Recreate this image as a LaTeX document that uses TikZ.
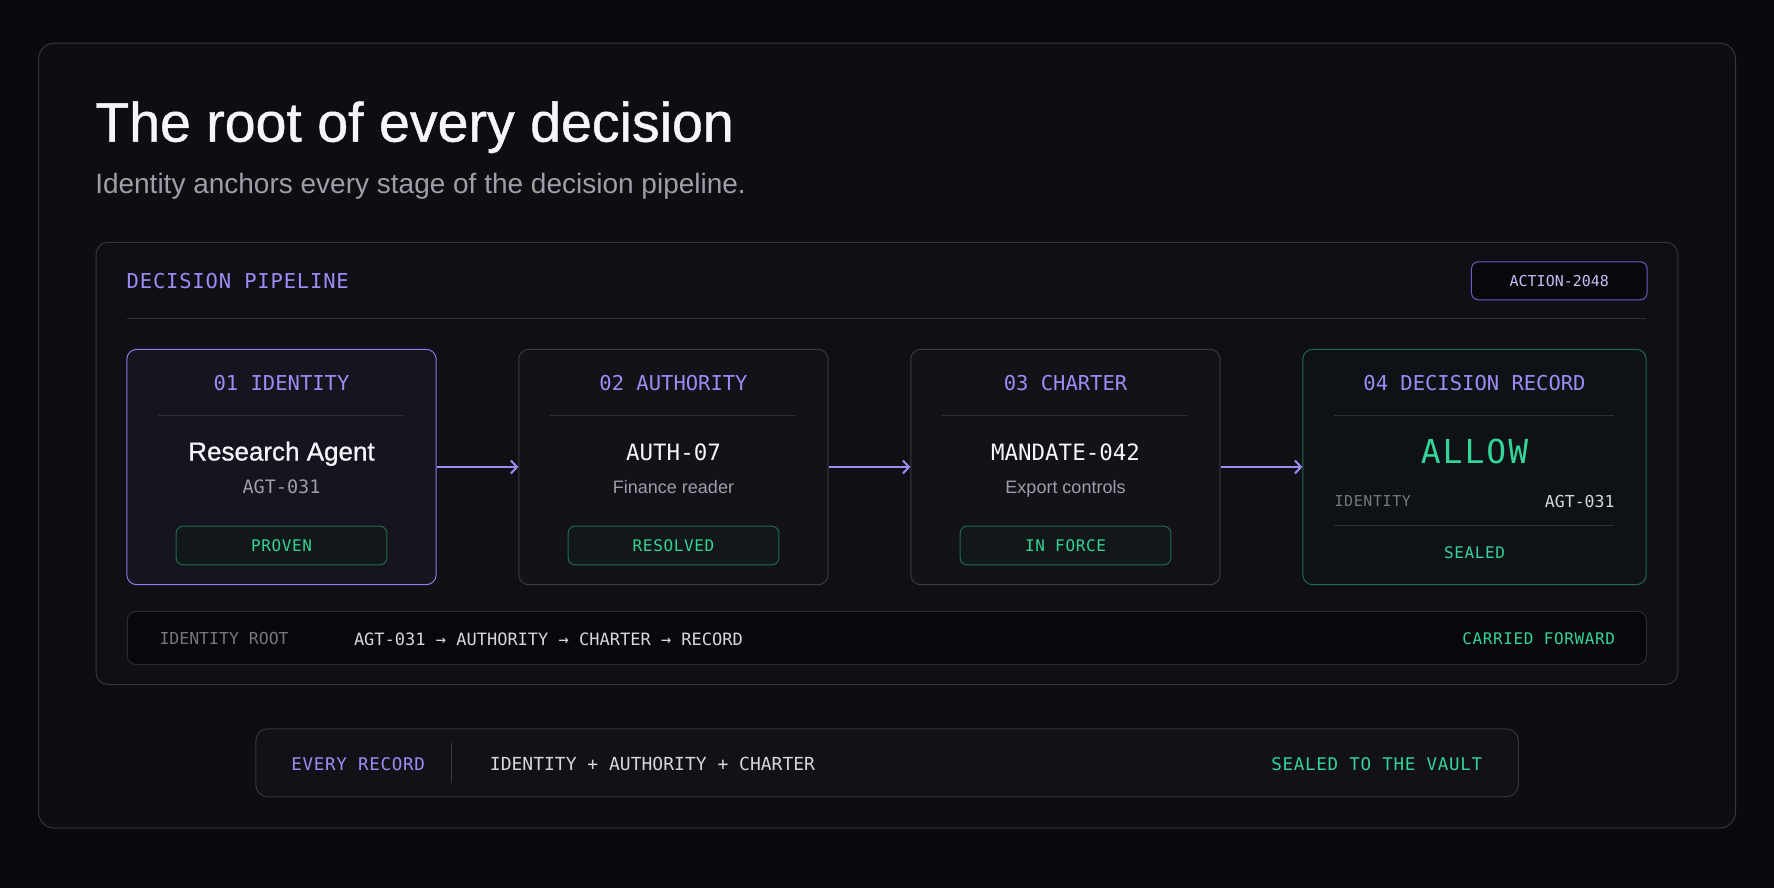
\documentclass[tikz,border=0pt]{standalone}
\usepackage{fontspec}
\setmainfont{Liberation Sans}
\newfontfamily\headfont{Liberation Sans}[FakeBold=0.8]
\newfontfamily\monofont{DejaVu Sans Mono}
\newfontfamily\monowide{DejaVu Sans Mono}[LetterSpace=4]
\newfontfamily\monohuge{DejaVu Sans Mono}[LetterSpace=6]
\usetikzlibrary{arrows.meta,positioning}
\definecolor{canvas}{HTML}{0A0A0E}
\definecolor{panelbg}{HTML}{0D0D12}
\definecolor{pipebg}{HTML}{0F0F15}
\definecolor{edge}{HTML}{35353D}
\definecolor{edgedark}{HTML}{2B2B33}
\definecolor{rulecol}{HTML}{2E2E36}
\definecolor{cardbg}{HTML}{121218}
\definecolor{cardedge}{HTML}{3A3A42}
\definecolor{idbg}{HTML}{16141F}
\definecolor{accentedge}{HTML}{8C7BEA}
\definecolor{recbg}{HTML}{0E1217}
\definecolor{okedge}{HTML}{1F6A4E}
\definecolor{badgebg}{HTML}{121719}
\definecolor{deepbg}{HTML}{08080C}
\definecolor{footbg}{HTML}{111117}
\definecolor{accent}{HTML}{9D8CF5}
\definecolor{lavender}{HTML}{C5BDF5}
\definecolor{tagedge}{HTML}{6A5CC4}
\definecolor{ok}{HTML}{34D399}
\definecolor{bright}{HTML}{F5F5FA}
\definecolor{soft}{HTML}{9E9EAA}
\definecolor{pale}{HTML}{D6D6DE}
\definecolor{dim}{HTML}{76767F}
\newcommand{\fsz}[1]{\fontsize{#1}{#1}\selectfont}
\tikzstyle{frame} = [draw=edge, fill=panelbg, line width=1pt, rounded corners=16pt, minimum width=1697pt, minimum height=785pt, inner sep=0pt]
\tikzstyle{pipe} = [draw=edge, fill=pipebg, line width=1pt, rounded corners=12pt, minimum width=1581.8pt, minimum height=442.2pt, inner sep=0pt]
\tikzstyle{cardplain} = [draw=cardedge, fill=cardbg, line width=1pt, rounded corners=10pt, minimum width=309.4pt, minimum height=235.4pt, inner sep=0pt]
\tikzstyle{cardid} = [cardplain, draw=accentedge, fill=idbg]
\tikzstyle{cardrec} = [cardplain, draw=okedge, fill=recbg, minimum width=343.4pt]
\tikzstyle{okbadge} = [draw=okedge, fill=badgebg, line width=1pt, rounded corners=7pt, minimum width=210.6pt, minimum height=38.6pt, inner sep=0pt, text height=11.7pt, text depth=0pt, font=\monowide\fsz{16}, text=ok]
\tikzstyle{actbadge} = [draw=tagedge, fill=deepbg, line width=1pt, rounded corners=7pt, minimum width=175.7pt, minimum height=38pt, inner sep=0pt, text height=11pt, text depth=0pt, font=\monofont\fsz{15}, text=lavender]
\tikzstyle{rootbar} = [draw=edgedark, fill=deepbg, line width=1pt, rounded corners=9pt, minimum width=1519.2pt, minimum height=53.3pt, inner sep=0pt]
\tikzstyle{footbar} = [draw=edge, fill=footbg, line width=1pt, rounded corners=12pt, minimum width=1262.6pt, minimum height=68pt, inner sep=0pt]
\tikzstyle{rule} = [draw=rulecol, line width=1pt]
\tikzstyle{flow} = [draw, line width=2pt, color=accent, -{Straight Barb[length=6pt,width=13pt,line width=2pt]}]
\tikzstyle{txt} = [inner sep=0pt, text depth=0pt]
\tikzstyle{headline} = [txt, font=\headfont\fsz{55.5}, text height=39.6pt, text=bright, anchor=west]
\tikzstyle{subline} = [txt, font=\fsz{28}, text height=20pt, text=soft, anchor=west]
\tikzstyle{section} = [txt, font=\monowide\fsz{20.5}, text height=15pt, text=accent, anchor=west]
\tikzstyle{stagehead} = [txt, font=\monofont\fsz{20.5}, text height=15pt, text=accent]
\tikzstyle{stagename} = [txt, font=\headfont\fsz{26}, text height=18.6pt, text=bright]
\tikzstyle{stagecode} = [txt, font=\monofont\fsz{22.5}, text height=16.4pt, text=bright]
\tikzstyle{stagenote} = [txt, font=\fsz{18}, text height=12.9pt, text=soft]
\tikzstyle{agentcode} = [txt, font=\monofont\fsz{18.5}, text height=13.5pt, text=soft]
\tikzstyle{verdict} = [txt, font=\monohuge\fsz{33}, text height=24pt, text=ok]
\tikzstyle{fieldkey} = [txt, font=\monowide\fsz{15}, text height=10.9pt, text=dim, anchor=west]
\tikzstyle{fieldval} = [txt, font=\monofont\fsz{16.5}, text height=12pt, text=pale, anchor=east]
\tikzstyle{sealtag} = [txt, font=\monowide\fsz{16}, text height=11.7pt, text=ok]
\tikzstyle{rootkey} = [txt, font=\monofont\fsz{16.5}, text height=12pt, text=dim, anchor=west]
\tikzstyle{rootpath} = [txt, font=\monofont\fsz{17}, text height=12.4pt, text=pale, anchor=west]
\tikzstyle{roottag} = [txt, font=\monowide\fsz{16}, text height=11.7pt, text=ok, anchor=east]
\tikzstyle{footkey} = [txt, font=\monowide\fsz{17.5}, text height=12.8pt, text=accent, anchor=west]
\tikzstyle{footpath} = [txt, font=\monofont\fsz{18}, text height=13.1pt, text=pale, anchor=west]
\tikzstyle{foottag} = [txt, font=\monowide\fsz{17.5}, text height=12.8pt, text=ok, anchor=east]
\newcommand{\stage}[2]{node (s#1) [#2] {}}
\newcommand{\okbadge}[2]{node (b#1) [okbadge] {#2}}

\begin{document}
\begin{tikzpicture}[x=1pt,y=-1pt]
\useasboundingbox (0,0) rectangle (1774,887);
\fill[canvas] (-4,-4) rectangle (1778,891);
\path (887.05,435.6) node (frame) [frame] {};
\path (frame.north west)+(57,79.2) node (title) [headline] {The root of every decision};
\path (title.west)+(0,61.6) node (sub) [subline] {Identity anchors every stage of the decision pipeline.};

\path (886.9,463.4) node (pipe) [pipe] {};
\path (pipe.north west)+(31,39.4) node (sec) [section] {DECISION PIPELINE};
\path (pipe.north east)+(-119,39) node (act) [actbadge] {ACTION-2048};
\path [rule] (pipe.north west)+(31,77) -- +(1550.7,77);

% stage cards
\path (pipe.west)+(186,3.6) \stage{1}{cardid};
\path (s1)+(392,0) \stage{2}{cardplain};
\path (s2)+(392,0) \stage{3}{cardplain};
\path (s3)+(409,0) \stage{4}{cardrec};
\path [flow] (s1.east) -- (s2.west);
\path [flow] (s2.east) -- (s3.west);
\path [flow] (s3.east) -- (s4.west);

\path (s1.north)+(0,34) node (h1) [stagehead] {01 IDENTITY};
\path [rule] (s1.north west)+(32,66.4) -- +(277.4,66.4);
\path (s1.north)+(0,102.4) node (n1) [stagename] {Research Agent};
\path (s1.north)+(0,138.4) node (c1) [agentcode] {AGT-031};
\path (s1.north)+(0,196.7) \okbadge{1}{PROVEN};

\path (s2.north)+(0,34) node (h2) [stagehead] {02 AUTHORITY};
\path [rule] (s2.north west)+(32,66.4) -- +(277.4,66.4);
\path (s2.north)+(0,103.4) node (n2) [stagecode] {AUTH-07};
\path (s2.north)+(0,138) node (c2) [stagenote] {Finance reader};
\path (s2.north)+(0,196.7) \okbadge{2}{RESOLVED};

\path (s3.north)+(0,34) node (h3) [stagehead] {03 CHARTER};
\path [rule] (s3.north west)+(32,66.4) -- +(277.4,66.4);
\path (s3.north)+(0,103.4) node (n3) [stagecode] {MANDATE-042};
\path (s3.north)+(0,138) node (c3) [stagenote] {Export controls};
\path (s3.north)+(0,196.7) \okbadge{3}{IN FORCE};

\path (s4.north)+(0,34) node (h4) [stagehead] {04 DECISION RECORD};
\path [rule] (s4.north west)+(32,66.4) -- +(311.4,66.4);
\path (s4.north)+(0,102.7) node (n4) [verdict] {ALLOW};
\path (s4.north west)+(32,152.7) node (k4) [fieldkey] {IDENTITY};
\path (s4.north east)+(-32,152.7) node (v4) [fieldval] {AGT-031};
\path [rule] (s4.north west)+(32,177) -- +(311.4,177);
\path (s4.north)+(0,204.2) node (t4) [sealtag] {SEALED};

% identity root strip
\path (pipe.south)+(0,-47.1) node (rb) [rootbar] {};
\path (rb.west)+(32.5,0.9) node (rk) [rootkey] {IDENTITY ROOT};
\path (rb.west)+(227,0.9) node (rp) [rootpath] {AGT-031 → AUTHORITY → CHARTER → RECORD};
\path (rb.east)+(-31.7,0.9) node (rt) [roottag] {CARRIED FORWARD};

% vault footer
\path (frame.south)+(0,-65.8) node (ev) [footbar] {};
\path (ev.west)+(36,0.9) node (ek) [footkey] {EVERY RECORD};
\path [draw=cardedge, line width=1pt] (ev.west)+(196.2,-20) -- +(196.2,20);
\path (ev.west)+(234.5,0.9) node (ep) [footpath] {IDENTITY + AUTHORITY + CHARTER};
\path (ev.east)+(-36.6,0.9) node (et) [foottag] {SEALED TO THE VAULT};
\end{tikzpicture}
\end{document}
